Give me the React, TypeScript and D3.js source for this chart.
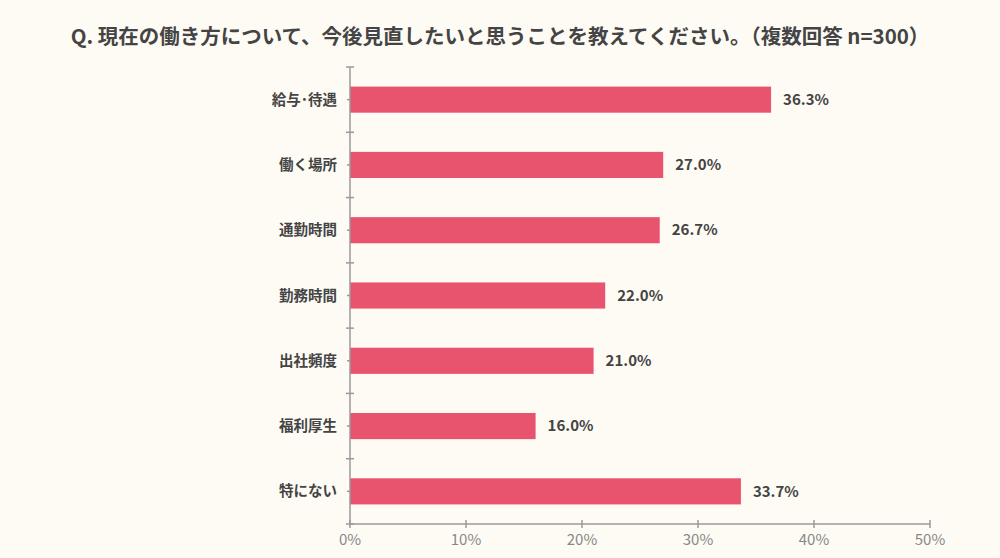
import React from "react";
import * as d3 from "d3";

// Data
const categories = ["給与･待遇", "働く場所", "通勤時間", "勤務時間", "出社頻度", "福利厚生", "特にない"];
const values = [36.3, 27.0, 26.7, 22.0, 21.0, 16.0, 33.7];
const xTicks = [0, 10, 20, 30, 40, 50];
const title = "Q. 現在の働き方について、今後見直したいと思うことを教えてください。（複数回答 n=300）";

const W = 1000;
const H = 558;
const margin = { top: 67, right: 70, bottom: 34, left: 350 };
const FONT = "'Noto Sans CJK JP', 'Noto Sans', sans-serif";

const App = () => {
  const x = d3.scaleLinear().domain([0, 50]).range([margin.left, W - margin.right]);
  const y = d3
    .scaleBand()
    .domain(categories)
    .range([margin.top, H - margin.bottom])
    .paddingInner(0.6)
    .paddingOuter(0.3);
  const step = y.step();
  const y0 = margin.top;
  const y1 = H - margin.bottom;
  const axisColor = "#9a9a9a";

  return (
    <svg
      width={W}
      height={H}
      style={{ position: "absolute", left: 0, top: 0, background: "#fefbf4", fontFamily: FONT }}
    >
      <text x={W / 2} y={44} textAnchor="middle" fontSize={20.5} fontWeight="bold" fill="#444">
        {title}
      </text>

      {/* bars */}
      {categories.map((c, i) => (
        <g key={c}>
          <rect x={x(0)} y={y(c)} width={x(values[i]) - x(0)} height={y.bandwidth()} fill="#e8536e" />
          <text
            x={x(values[i]) + 12}
            y={(y(c) as number) + y.bandwidth() / 2}
            dy="0.35em"
            fontSize={15}
            fontWeight="bold"
            fill="#444"
          >
            {values[i].toFixed(1)}%
          </text>
          <text
            x={337}
            y={(y(c) as number) + y.bandwidth() / 2}
            dy="0.35em"
            textAnchor="end"
            fontSize={14.5}
            fontWeight="bold"
            fill="#444"
          >
            {c}
          </text>
        </g>
      ))}

      {/* y axis */}
      <line x1={x(0)} x2={x(0)} y1={y0} y2={y1} stroke={axisColor} strokeWidth={1.5} />
      {d3.range(categories.length + 1).map((i) => (
        <line key={"b" + i} x1={x(0) - 4} x2={x(0) + 4} y1={y0 + i * step} y2={y0 + i * step} stroke={axisColor} strokeWidth={1.5} />
      ))}
      {categories.map((c) => (
        <line
          key={"m" + c}
          x1={x(0) - 3}
          x2={x(0)}
          y1={(y(c) as number) + y.bandwidth() / 2}
          y2={(y(c) as number) + y.bandwidth() / 2}
          stroke={axisColor}
          strokeWidth={1.5}
        />
      ))}

      {/* x axis */}
      <line x1={x(0)} x2={x(50)} y1={y1} y2={y1} stroke={axisColor} strokeWidth={1.5} />
      {xTicks.map((t) => (
        <g key={t}>
          <line x1={x(t)} x2={x(t)} y1={y1 - 4} y2={y1 + 4} stroke={axisColor} strokeWidth={1.5} />
          <text x={x(t)} y={y1 + 21} textAnchor="middle" fontSize={15} fill="#888">
            {t}%
          </text>
        </g>
      ))}
    </svg>
  );
};

export default App;
